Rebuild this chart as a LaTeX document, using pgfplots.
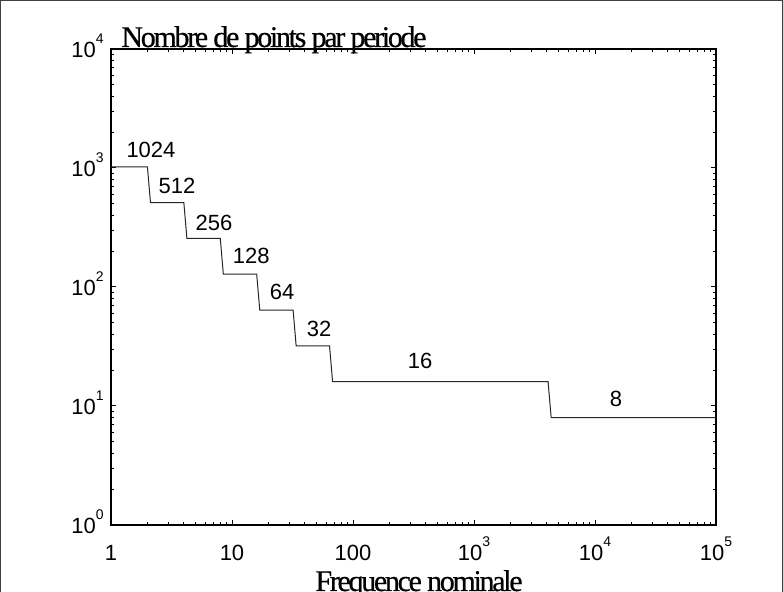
\documentclass[border=0pt]{standalone}
\usepackage{fontspec}
\setmainfont{Liberation Sans}
\newfontfamily\titlefont[LetterSpace=-7.7,FakeBold=0.6]{Liberation Serif}
\usepackage{pgfplots}
\pgfplotsset{compat=1.18}
\newcommand{\ex}[1]{10\raisebox{7pt}{\fontsize{7}{8}\selectfont #1}}
\begin{document}
\begin{tikzpicture}
\useasboundingbox (0,0) rectangle (391.5pt,296pt);
\clip (0,0) rectangle (391.5pt,296pt);
\draw[line width=0.6pt, black!75] (0.3pt,-10pt) -- (0.3pt,295.7pt) -- (391.2pt,295.7pt) -- (391.2pt,-10pt);
\begin{axis}[
    at={(55.5pt,33.5pt)}, anchor=south west,
    scale only axis,
    width=302.5pt, height=238pt,
    xmode=log, ymode=log,
    xmin=1, xmax=1e5, ymin=1, ymax=1e4,
    xtick={1,10,100,1000,10000,100000},
    xticklabels={1,10,100,\ex{3},\ex{4},\ex{5}},
    ytick={1,10,100,1000,10000},
    yticklabels={\ex{0},\ex{1},\ex{2},\ex{3},\ex{4}},
    tick label style={font=\fontsize{11}{13}\selectfont, inner sep=0pt},
    xticklabel style={anchor=base, yshift=-18pt},
    yticklabel style={anchor=base east, xshift=-3.5pt, yshift=-4.3pt},
    tick align=inside,
    major tick length=2.5pt, minor tick length=1.5pt,
    axis line style={line width=0.9pt},
    every tick/.style={black, line width=0.5pt},
    clip=false,
]
\addplot[black!85, line width=0.5pt] coordinates {
    (1,1024) (2,1024) (2.12,512) (4,512) (4.24,256) (8,256)
    (8.48,128) (16,128) (16.96,64) (32,64) (33.9,32) (64,32)
    (67.8,16) (4096,16) (4342,8) (100000,8)
};
\addplot[draw=none, mark=none, nodes near coords, point meta=explicit symbolic,
    nodes near coords style={anchor=center, inner sep=0pt, font=\fontsize{11}{13}\selectfont}]
    table[meta=lab] {
x y lab
2.14 1417 1024
3.51 706 512
7.10 345 256
14.4 182 128
25.9 90.8 64
52.4 44.4 32
358 23.9 16
14900 11.5 8
};
\end{axis}
\node[anchor=base west, inner sep=0pt, font=\titlefont\fontsize{15}{17}\selectfont] at (60.5pt,272.5pt) {Nombre de points par periode};
\node[anchor=base, inner sep=0pt, font=\titlefont\fontsize{15}{17}\selectfont] at (209.5pt,0.5pt) {Frequence nominale};
\end{tikzpicture}
\end{document}
